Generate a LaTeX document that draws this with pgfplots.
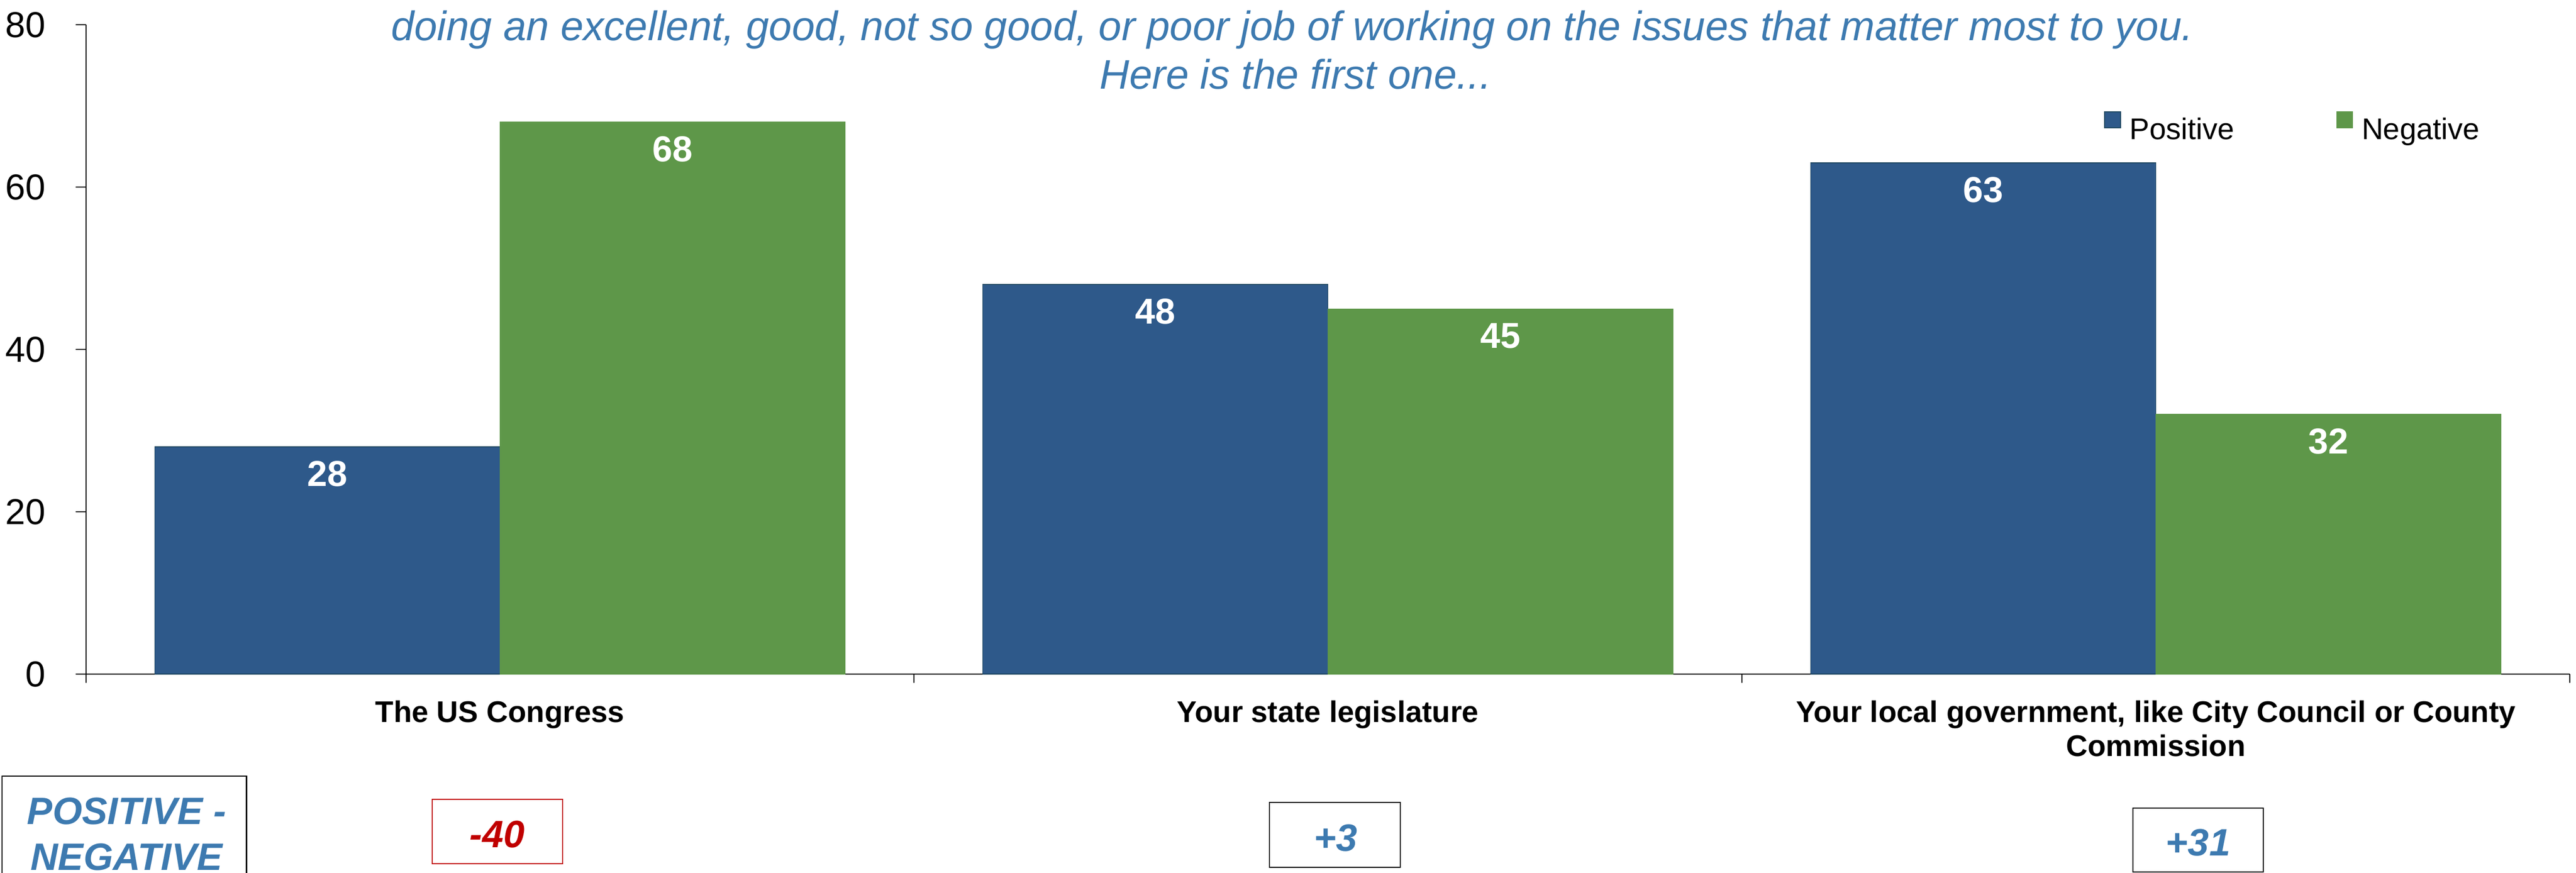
\documentclass[border=0pt]{standalone}
\usepackage{pgfplots}
\pgfplotsset{compat=1.18}
\usepackage{fontspec}
\setmainfont{Liberation Sans}
\definecolor{barblue}{RGB}{46,89,138}
\definecolor{barblueedge}{RGB}{30,70,95}
\definecolor{bargreen}{RGB}{94,151,73}
\definecolor{titleblue}{RGB}{61,122,176}
\definecolor{diffred}{RGB}{192,0,0}
\pgfplotsset{/pgfplots/ybar legend/.style={/pgfplots/legend image code/.code={\fill[##1] (0mm,0.4mm) rectangle (3.1mm,3.5mm);}}}
\begin{document}
\begin{tikzpicture}
\begin{scope}
\clip (0,0) rectangle (500.3mm,169.5mm);
\begin{axis}[
  at={(16.7mm,38.6mm)}, anchor=south west,
  scale only axis, width=482.4mm, height=126.1mm,
  xmin=-0.5, xmax=2.5, ymin=0, ymax=80,
  axis x line=bottom, axis y line=left,
  axis line style={-, line width=0.22mm, black},
  ybar, bar width=0.417,
  ytick={0,20,40,60,80},
  xtick={0,1,2},
  xticklabels={The US Congress, Your state legislature, {Your local government, like City Council or County\\Commission}},
  minor xtick={-0.5,0.5,1.5,2.5},
  tick align=outside,
  major tick length=2mm, minor tick length=1.7mm,
  tick style={black, line width=0.2mm},
  major x tick style={draw=none},
  yticklabel style={anchor=east, inner sep=0pt, xshift=-5.8mm, font=\fontsize{7mm}{8mm}\selectfont},
  xticklabel style={anchor=north, inner sep=0pt, yshift=-3.1mm, align=center, font=\fontsize{5.8mm}{6.6mm}\selectfont\bfseries},
  /pgf/number format/assume math mode=true,
  nodes near coords,
  every node near coord/.append style={anchor=north, yshift=-2.7mm, inner sep=0pt, text=white, font=\fontsize{7mm}{8mm}\selectfont\bfseries},
  legend columns=2,
  legend style={at={(0.8124,0.843)}, anchor=west, draw=none, fill=none, inner sep=0pt,
    font=\fontsize{5.8mm}{7mm}\selectfont, nodes={inner sep=0pt}, column sep=0pt,
    /tikz/every odd column/.append style={column sep=1.7mm},
    /tikz/every even column/.append style={column sep=19.8mm}},
]
\addplot[fill=barblue, draw=barblueedge, line width=0.15mm, bar shift=-0.2085] coordinates {(0,28) (1,48) (2,63)};
\addplot[fill=bargreen, draw=bargreen, line width=0.15mm, bar shift=0.2085] coordinates {(0,68) (1,45) (2,32)};
\legend{Positive, Negative}
\end{axis}
% question text
\node[anchor=base, text=titleblue, font=\fontsize{8mm}{9.4mm}\selectfont\itshape, inner sep=0pt] at (251mm,161.6mm) {doing an excellent, good, not so good, or poor job of working on the issues that matter most to you.};
\node[anchor=base, text=titleblue, font=\fontsize{8mm}{9.4mm}\selectfont\itshape, inner sep=0pt] at (251.6mm,152.2mm) {Here is the first one...};
% positive - negative boxes
\draw[line width=0.25mm, black] (0.4mm,-5mm) rectangle (47.9mm,18.8mm);
\node[anchor=base, text=titleblue, font=\fontsize{7.4mm}{9mm}\selectfont\bfseries\itshape, inner sep=0pt] at (24.6mm,9.5mm) {POSITIVE -};
\node[anchor=base, text=titleblue, font=\fontsize{7.4mm}{9mm}\selectfont\bfseries\itshape, inner sep=0pt] at (24.6mm,0.5mm) {NEGATIVE};
\draw[line width=0.2mm, diffred] (83.9mm,1.8mm) rectangle (109.3mm,14.3mm);
\node[anchor=base, text=diffred, font=\fontsize{7.4mm}{9mm}\selectfont\bfseries\itshape, inner sep=0pt] at (96.6mm,5.0mm) {-40};
\draw[line width=0.2mm, black] (246.5mm,1.1mm) rectangle (272.0mm,13.7mm);
\node[anchor=base, text=titleblue, font=\fontsize{7.4mm}{9mm}\selectfont\bfseries\itshape, inner sep=0pt] at (259.4mm,4.3mm) {+3};
\draw[line width=0.2mm, black] (414.2mm,0.2mm) rectangle (439.6mm,12.6mm);
\node[anchor=base, text=titleblue, font=\fontsize{7.4mm}{9mm}\selectfont\bfseries\itshape, inner sep=0pt] at (426.9mm,3.3mm) {+31};
\end{scope}
\pgfresetboundingbox
\useasboundingbox (0,0) rectangle (500.3mm,169.5mm);
\end{tikzpicture}
\end{document}
